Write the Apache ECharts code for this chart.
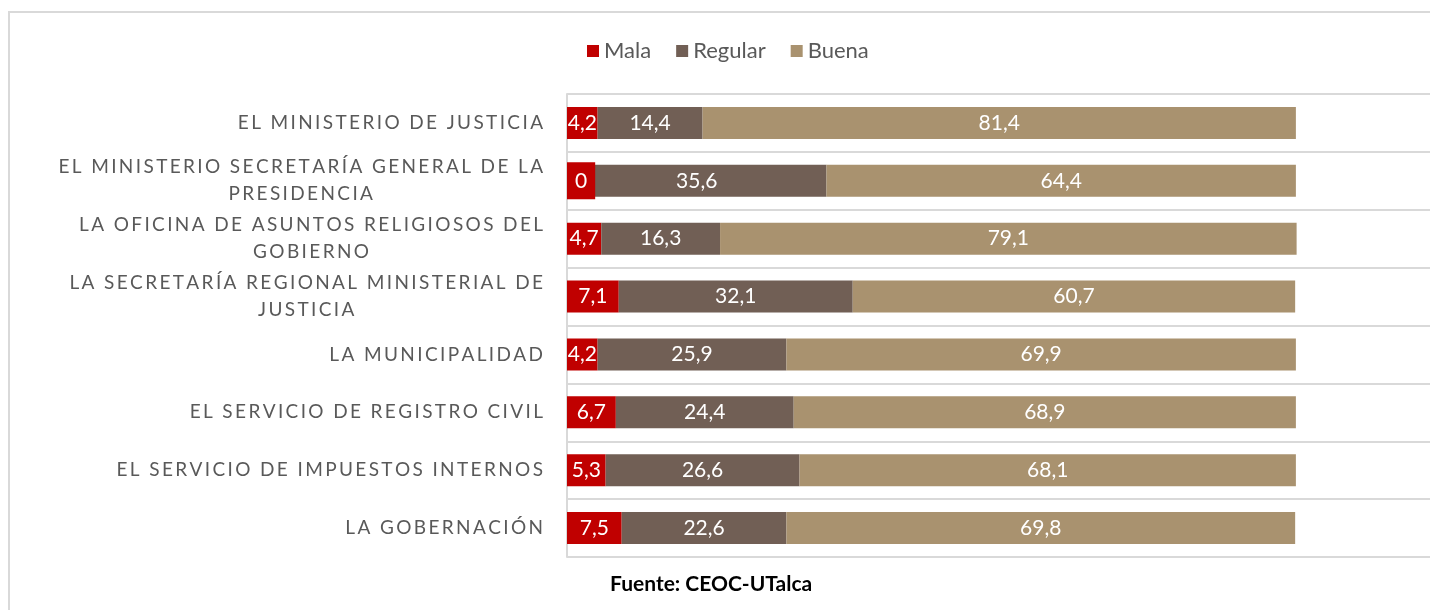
<!DOCTYPE html>
<html>
<head>
<meta charset="utf-8">
<script src="https://cdn.jsdelivr.net/npm/echarts@6/dist/echarts.min.js"></script>
<style>
  html, body { margin: 0; padding: 0; background: #fff; }
  #chart { width: 1430px; height: 610px; }
</style>
</head>
<body>
<div id="chart"></div>
<script>
// categories, top to bottom
var categories = [
  "EL MINISTERIO DE JUSTICIA",
  "EL MINISTERIO SECRETARÍA GENERAL DE LA\nPRESIDENCIA",
  "LA OFICINA DE ASUNTOS RELIGIOSOS DEL\nGOBIERNO",
  "LA SECRETARÍA REGIONAL MINISTERIAL DE\nJUSTICIA",
  "LA MUNICIPALIDAD",
  "EL SERVICIO DE REGISTRO CIVIL",
  "EL SERVICIO DE IMPUESTOS INTERNOS",
  "LA GOBERNACIÓN"
];
var mala = [4.2, 0, 4.7, 7.1, 4.2, 6.7, 5.3, 7.5];
var regular = [14.4, 35.6, 16.3, 32.1, 25.9, 24.4, 26.6, 22.6];
var buena = [81.4, 64.4, 79.1, 60.7, 69.9, 68.9, 68.1, 69.8];

var colors = { mala: "#C00000", regular: "#715F55", buena: "#A9926F" };
var font = "Lato, 'Open Sans', sans-serif";

// spread letters like the original wide tracking
function spaced(s) {
  return s.split("").join("\u2009");
}

function fmt(p) {
  return String(p.value).replace(".", ",");
}

var chart = echarts.init(document.getElementById("chart"));

var labelStyle = {
  show: true,
  position: "inside",
  color: "#fff",
  fontSize: 21,
  fontFamily: font,
  formatter: fmt
};

// a zero bar still shows its label on a red box, as in the original
var malaData = mala.map(function (v) {
  if (v === 0) {
    return {
      value: v,
      label: {
        position: "insideLeft",
        distance: 0,
        backgroundColor: colors.mala,
        padding: [7, 8],
        lineHeight: 23
      }
    };
  }
  return v;
});

chart.setOption({
  animation: false,
  textStyle: { fontFamily: font },
  legend: {
    left: 587,
    top: 40,
    padding: 0,
    icon: "rect",
    itemWidth: 12,
    itemHeight: 12,
    itemGap: 25,
    textStyle: { fontSize: 22, color: "#595959", fontFamily: font },
    data: ["Mala", "Regular", "Buena"]
  },
  grid: {
    left: 567,
    right: 0,
    top: 94,
    bottom: 53
  },
  xAxis: {
    type: "value",
    min: 0,
    max: 118.4,
    show: false
  },
  yAxis: {
    type: "category",
    inverse: true,
    data: categories,
    axisLine: { show: true, lineStyle: { color: "#d9d9d9", width: 2 } },
    axisTick: { show: false },
    splitLine: { show: true, lineStyle: { color: "#d9d9d9", width: 2 } },
    axisLabel: {
      margin: 24,
      color: "#595959",
      fontSize: 19,
      fontFamily: font,
      lineHeight: 27,
      formatter: function (v) {
        return v.split("\n").map(function (line) {
          return "{c|" + spaced(line) + "}";
        }).join("\n");
      },
      rich: {
        c: { align: "center", color: "#595959", fontSize: 19, fontFamily: font, lineHeight: 27 }
      }
    }
  },
  graphic: [
    {
      type: "rect",
      shape: { x: 9, y: 12, width: 1440, height: 620 },
      style: { fill: "none", stroke: "#d9d9d9", lineWidth: 2 },
      z: -1
    },
    {
      type: "text",
      left: 610,
      top: 574,
      style: {
        text: "Fuente: CEOC-UTalca",
        fontSize: 21,
        fontWeight: "bold",
        fontFamily: font,
        fill: "#000"
      }
    }
  ],
  series: [
    {
      name: "Mala",
      type: "bar",
      stack: "total",
      barWidth: 32,
      itemStyle: { color: colors.mala },
      label: labelStyle,
      data: malaData
    },
    {
      name: "Regular",
      type: "bar",
      stack: "total",
      barWidth: 32,
      itemStyle: { color: colors.regular },
      label: labelStyle,
      data: regular
    },
    {
      name: "Buena",
      type: "bar",
      stack: "total",
      barWidth: 32,
      itemStyle: { color: colors.buena },
      label: labelStyle,
      data: buena
    }
  ]
});
</script>
</body>
</html>
